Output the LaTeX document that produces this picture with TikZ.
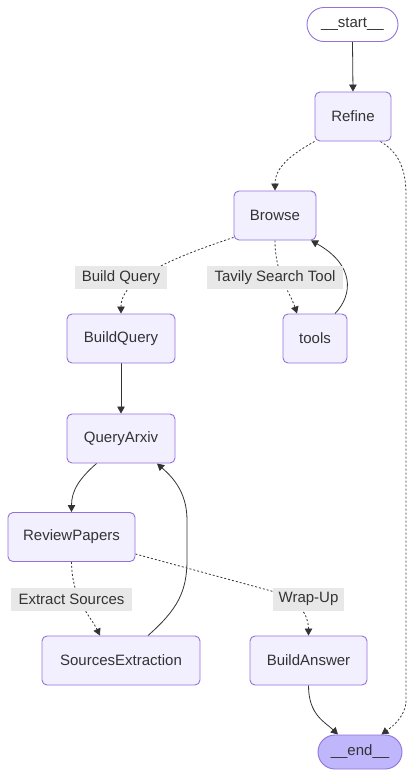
\documentclass[tikz,border=0pt]{standalone}
\usepackage{fontspec}
\setmainfont{Liberation Sans}
\usetikzlibrary{arrows.meta}
\definecolor{nodefill}{HTML}{F2F0FF}
\definecolor{nodeline}{HTML}{9370DB}
\definecolor{endfill}{HTML}{BFB6FC}
\definecolor{lblfill}{HTML}{E8E8E8}
\definecolor{ink}{HTML}{333333}
\pgfdeclarelayer{bg}
\pgfsetlayers{bg,main}
\begin{document}
\begin{tikzpicture}[x=1pt,y=-1pt,
  font=\fontsize{15}{18}\selectfont, text=ink,
  box/.style={draw=nodeline, fill=nodefill, rounded corners=5pt, line width=0.9pt,
    minimum height=49pt, inner sep=0pt},
  term/.style={draw=nodeline, rounded corners=17pt, line width=0.9pt,
    minimum height=34pt, inner sep=0pt},
  lbl/.style={fill=lblfill, minimum height=23pt, inner sep=0pt},
  edge/.style={draw=ink, line width=0.8pt, -{Triangle[length=7pt,width=7.5pt]}},
  cond/.style={edge, dash pattern=on 2pt off 2pt}]
\useasboundingbox (0,0) rectangle (415,777);

\node[term, fill=white, minimum width=91pt] (start) at (352.5,24.5) {\_\_start\_\_};
\node[box, minimum width=76pt] (Refine) at (353,116.5) {Refine};
\node[box, minimum width=82pt] (Browse) at (275,215.5) {Browse};
\node[box, minimum width=108pt] (BuildQuery) at (121,338.5) {BuildQuery};
\node[box, minimum width=64pt] (tools) at (315,338.5) {tools};
\node[box, minimum width=108pt] (QueryArxiv) at (121,438.5) {QueryArxiv};
\node[box, minimum width=127pt] (ReviewPapers) at (71.5,537) {ReviewPapers};
\node[box, minimum width=158pt] (SourcesExtraction) at (121,660.5) {SourcesExtraction};
\node[box, minimum width=117pt] (BuildAnswer) at (308.5,660.5) {BuildAnswer};
\node[term, fill=endfill, minimum width=84pt] (end) at (360,752) {\_\_end\_\_};

\node[lbl, minimum width=92pt] (lbq) at (121,277.5) {Build Query};
\node[lbl, minimum width=136pt] (ltav) at (275,277.5) {Tavily Search Tool};
\node[lbl, minimum width=121pt] (lext) at (71.5,599) {Extract Sources};
\node[lbl, minimum width=71pt] (lwrap) at (308.5,599) {Wrap-Up};

\begin{pgfonlayer}{bg}
\draw[edge] (start.south) -- (Refine.north);
\draw[cond] (Refine.south west) .. controls (290,155) and (275,168) .. (Browse.north);
\draw[cond] ([xshift=-11pt]Refine.south east) .. controls (398,152) and (406,168) .. (406,195)
   -- (406,700) .. controls (406,716) and (393,726) .. ([xshift=-21pt]end.north east);
\draw[cond] ([yshift=3pt]Browse.south west) .. controls (150,265) and (121,285) .. (BuildQuery.north);
\draw[cond] (Browse.south) .. controls (275,275) and (290,292) .. ([xshift=-18pt]tools.north);
\draw[edge] ([xshift=20pt]tools.north) .. controls (353,295) and (355,265) .. ([xshift=36pt]Browse.south);
\draw[edge] (BuildQuery.south) -- (QueryArxiv.north);
\draw[edge] ([xshift=30pt]QueryArxiv.south west) .. controls (80,478) and (71.5,490) .. (ReviewPapers.north);
\draw[edge] ([xshift=27pt]SourcesExtraction.north) .. controls (177,610) and (187,592) .. (187,560)
   -- (187,520) .. controls (187,490) and (170,475) .. ([xshift=36pt]QueryArxiv.south);
\draw[cond] (ReviewPapers.south) .. controls (72,600) and (90,615) .. ([xshift=-21pt]SourcesExtraction.north);
\draw[cond] ([yshift=-17pt]ReviewPapers.east) -- (275,592) .. controls (298,600) and (308.5,614) .. (BuildAnswer.north);
\draw[edge] (BuildAnswer.south) .. controls (308.5,715) and (325,722) .. ([xshift=-22pt]end.north);
\end{pgfonlayer}
\end{tikzpicture}
\end{document}
